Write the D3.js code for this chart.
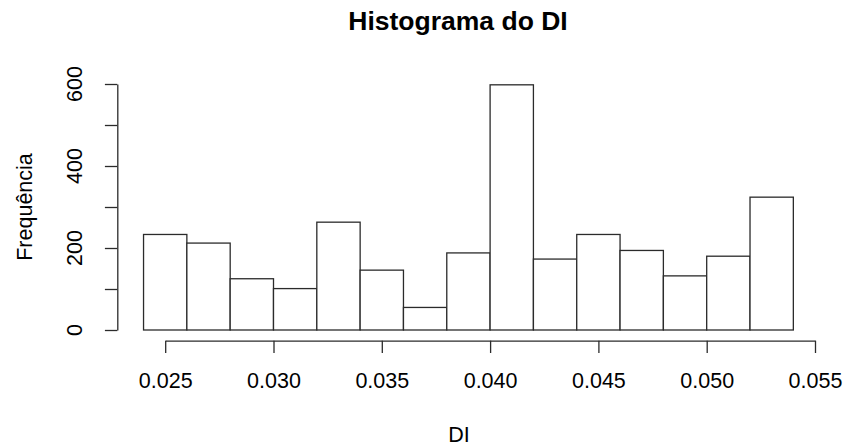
<!DOCTYPE html>
<html>
<head>
<meta charset="utf-8">
<script src="https://cdn.jsdelivr.net/npm/d3@7"></script>
<style>
  html, body { margin: 0; padding: 0; background: #fff; }
  svg { display: block; }
  text { font-family: "Liberation Sans", Arial, sans-serif; fill: #000; }
</style>
</head>
<body>
<svg id="chart" width="846" height="447"></svg>
<script>
// Histogram bins (DI) and frequencies
const binStarts = [0.024, 0.026, 0.028, 0.030, 0.032, 0.034, 0.036, 0.038, 0.040, 0.042, 0.044, 0.046, 0.048, 0.050, 0.052];
const binWidth = 0.002;
const counts = [233, 212, 125, 101, 263, 146, 55, 188, 598, 173, 233, 194, 132, 180, 324];
const xTicks = [0.025, 0.030, 0.035, 0.040, 0.045, 0.050, 0.055];
const yTicks = [0, 100, 200, 300, 400, 500, 600];
const yLabelTicks = [0, 200, 400, 600];
const titleText = "Histograma do DI";
const xLabel = "DI";
const yLabel = "Frequência";

const svg = d3.select("#chart");
const stroke = "#2b2b2b";

const x = d3.scaleLinear().domain([0.025, 0.055]).range([165.2, 815]);
const y = d3.scaleLinear().domain([0, 600]).range([330, 84]);

// Bars
svg.append("g").selectAll("rect")
  .data(binStarts.map((s, i) => ({ s, c: counts[i] })))
  .join("rect")
  .attr("x", d => x(d.s))
  .attr("width", d => x(d.s + binWidth) - x(d.s))
  .attr("y", d => y(d.c))
  .attr("height", d => y(0) - y(d.c))
  .attr("fill", "#fff")
  .attr("stroke", stroke)
  .attr("stroke-width", 1.3);

// X axis
const xAxis = d3.axisBottom(x)
  .tickValues(xTicks)
  .tickFormat(d3.format(".3f"))
  .tickSize(12.3)
  .tickPadding(19.5)
  .tickSizeOuter(0);
const gx = svg.append("g").attr("transform", "translate(0,340.7)").call(xAxis);
gx.select(".domain").attr("stroke", stroke).attr("stroke-width", 1.3);
gx.selectAll(".tick line").attr("stroke", stroke).attr("stroke-width", 1.3);
gx.selectAll(".tick text")
  .style("font-family", '"Liberation Sans", Arial, sans-serif')
  .style("font-size", "21.5px")
  .attr("fill", "#000");

// Y axis
const yAxis = d3.axisLeft(y)
  .tickValues(yTicks)
  .tickFormat("")
  .tickSize(12.4)
  .tickSizeOuter(0);
const gy = svg.append("g").attr("transform", "translate(117.3,0)").call(yAxis);
gy.select(".domain").attr("stroke", stroke).attr("stroke-width", 1.3);
gy.selectAll(".tick line").attr("stroke", stroke).attr("stroke-width", 1.3);

svg.append("g").selectAll("text")
  .data(yLabelTicks)
  .join("text")
  .attr("transform", d => `translate(82,${y(d)}) rotate(-90)`)
  .attr("text-anchor", "middle")
  .style("font-size", "21.5px")
  .text(d => d);

// Title
svg.append("text")
  .attr("x", 458)
  .attr("y", 30)
  .attr("text-anchor", "middle")
  .style("font-size", "26.5px")
  .style("font-weight", "bold")
  .text(titleText);

// Axis labels
svg.append("text")
  .attr("x", 459)
  .attr("y", 442)
  .attr("text-anchor", "middle")
  .style("font-size", "21.5px")
  .text(xLabel);

svg.append("text")
  .attr("transform", "translate(32,207) rotate(-90)")
  .attr("text-anchor", "middle")
  .style("font-size", "21.5px")
  .text(yLabel);
</script>
</body>
</html>
